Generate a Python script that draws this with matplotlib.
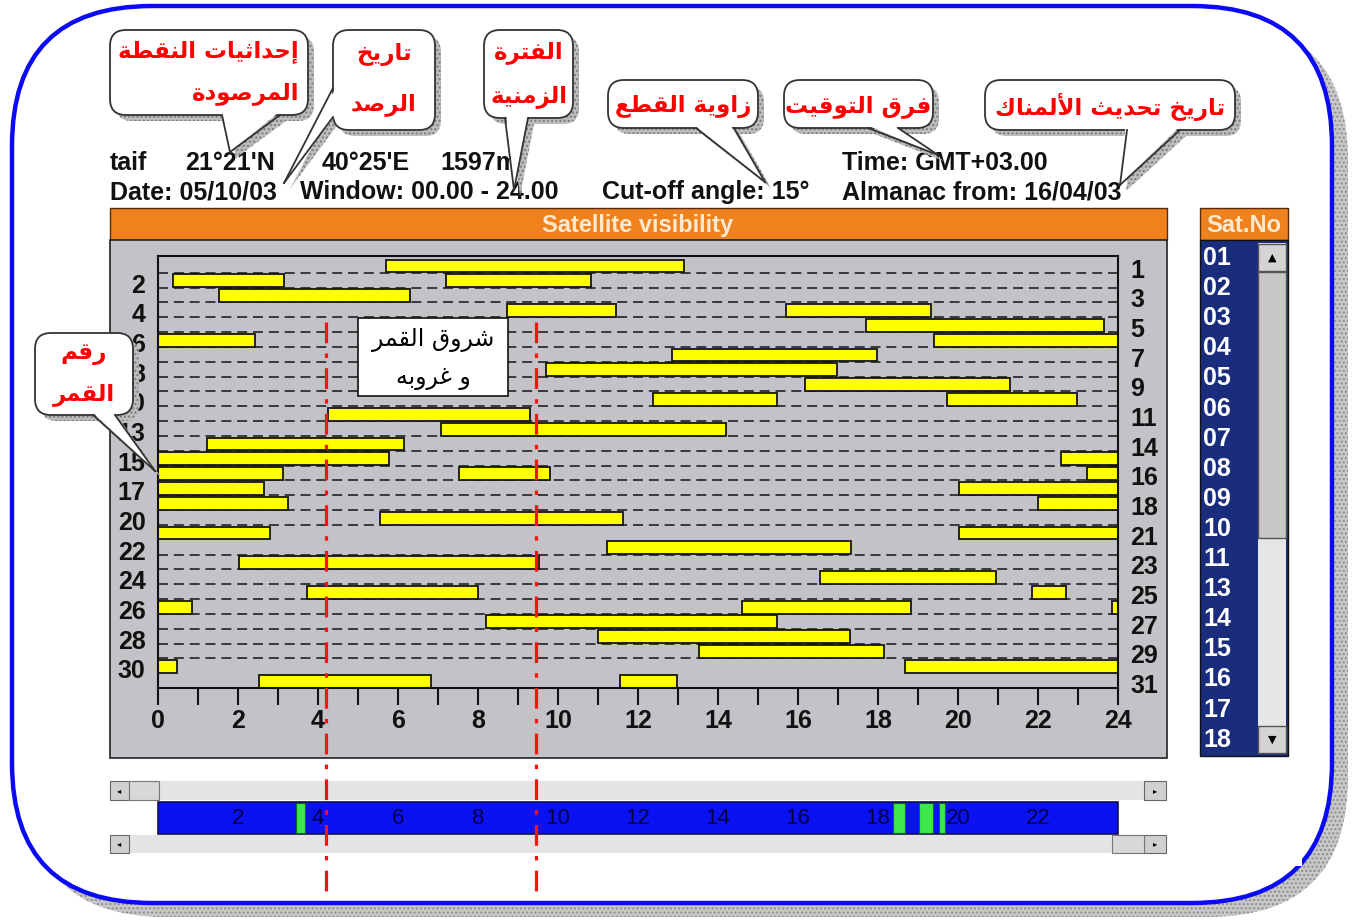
import matplotlib
matplotlib.use("Agg")
import matplotlib.pyplot as plt
from matplotlib.patches import Rectangle, FancyBboxPatch, Polygon
from matplotlib.transforms import blended_transform_factory

# ---- values ----
sat_prn = [1, 2, 3, 4, 5, 6, 7, 8, 9, 10, 11, 13, 14, 15, 16, 17, 18, 20, 21,
           22, 23, 24, 25, 26, 27, 28, 29, 30, 31]
# visibility windows (start hour, end hour), one list per satellite row
windows = [
    [(5.7, 13.15)],
    [(0.38, 3.15), (7.2, 10.83)],
    [(1.52, 6.3)],
    [(8.73, 11.45), (15.7, 19.32)],
    [(17.69, 23.66)],
    [(0.0, 2.43), (19.4, 24.0)],
    [(12.85, 17.97)],
    [(9.71, 16.98)],
    [(16.18, 21.31)],
    [(12.37, 15.48), (19.72, 22.98)],
    [(4.26, 9.31)],
    [(7.08, 14.19)],
    [(1.23, 6.14)],
    [(0.0, 5.77), (22.57, 24.0)],
    [(0.0, 3.13), (7.53, 9.8), (23.23, 24.0)],
    [(0.0, 2.66), (20.03, 24.0)],
    [(0.0, 3.26), (22.01, 24.0)],
    [(5.56, 11.63)],
    [(0.0, 2.79), (20.03, 24.0)],
    [(11.23, 17.33)],
    [(2.03, 9.53)],
    [(16.55, 20.95)],
    [(3.73, 8.0), (21.86, 22.69)],
    [(0.0, 0.85), (14.59, 18.83), (23.85, 24.0)],
    [(8.21, 15.48)],
    [(11.0, 17.31)],
    [(13.52, 18.14)],
    [(0.0, 0.47), (18.68, 24.0)],
    [(2.52, 6.83), (11.54, 12.98)],
]
no_dash_after = [19, 28]          # row boundaries without the dashed guide
hours = list(range(25))
moon_times = [4.2, 9.45]          # moon rise / set markers
timeline_labels = [2, 4, 6, 8, 10, 12, 14, 16, 18, 20, 22]
timeline_green = [(3.45, 3.67), (18.37, 18.68), (19.03, 19.38), (19.53, 19.68)]
satno_list = ["01", "02", "03", "04", "05", "06", "07", "08", "09", "10",
              "11", "13", "14", "15", "16", "17", "18"]

header1 = [("taif", 110), ("21°21'N", 185), ("40°25'E", 322), ("1597m", 440),
           ("Time: GMT+03.00", 842)]
header2 = [("Date: 05/10/03", 110), ("Window: 00.00 - 24.00", 300),
           ("Cut-off angle: 15°", 602), ("Almanac from: 16/04/03", 842)]

callouts = [
    ((110, 30, 308, 115), [(222, 115), (280, 115)], (230, 152), ["إحداثيات النقطة", "المرصودة"], "right"),
    ((333, 30, 435, 130), [(333, 88), (333, 117)], (284, 183), ["تاريخ", "الرصد"], "center"),
    ((484, 30, 573, 118), [(505, 118), (528, 118)], (514, 190), ["الفترة", "الزمنية"], "center"),
    ((608, 80, 758, 128), [(696, 128), (734, 128)], (765, 182), ["زاوية القطع"], "center"),
    ((784, 80, 933, 128), [(868, 128), (898, 128)], (938, 155), ["فرق التوقيت"], "center"),
    ((985, 80, 1235, 130), [(1127, 130), (1180, 130)], (1120, 185), ["تاريخ تحديث الألمناك"], "center"),
    ((35, 333, 133, 415), [(93, 415), (115, 415)], (155, 471), ["رقم", "القمر"], "center"),
]
moon_note = ["شروق القمر", "و غروبه"]

# ---- minimal Arabic shaping (matplotlib has no complex text layout) ----
AR = {'ا': (0xFE8D, False), 'أ': (0xFE83, False), 'إ': (0xFE87, False), 'آ': (0xFE81, False),
      'ب': (0xFE8F, True), 'ة': (0xFE93, False), 'ت': (0xFE95, True), 'ث': (0xFE99, True),
      'ج': (0xFE9D, True), 'ح': (0xFEA1, True), 'خ': (0xFEA5, True), 'د': (0xFEA9, False),
      'ذ': (0xFEAB, False), 'ر': (0xFEAD, False), 'ز': (0xFEAF, False), 'س': (0xFEB1, True),
      'ش': (0xFEB5, True), 'ص': (0xFEB9, True), 'ض': (0xFEBD, True), 'ط': (0xFEC1, True),
      'ظ': (0xFEC5, True), 'ع': (0xFEC9, True), 'غ': (0xFECD, True), 'ف': (0xFED1, True),
      'ق': (0xFED5, True), 'ك': (0xFED9, True), 'ل': (0xFEDD, True), 'م': (0xFEE1, True),
      'ن': (0xFEE5, True), 'ه': (0xFEE9, True), 'و': (0xFEED, False), 'ى': (0xFEEF, False),
      'ي': (0xFEF1, True)}
LAM_ALEF = {'ا': 0xFEFB, 'أ': 0xFEF7, 'إ': 0xFEF9, 'آ': 0xFEF5}


def shape(text):
    seq = []
    i = 0
    while i < len(text):
        c = text[i]
        if c == 'ل' and i + 1 < len(text) and text[i + 1] in LAM_ALEF:
            seq.append(('LA', LAM_ALEF[text[i + 1]]))
            i += 2
        else:
            seq.append(('C', c))
            i += 1

    def joins_next(it):
        return it[0] == 'C' and it[1] in AR and AR[it[1]][1]

    def letter(it):
        return it[0] == 'LA' or it[1] in AR

    out = []
    for j, it in enumerate(seq):
        prev_ok = j > 0 and joins_next(seq[j - 1]) and letter(it)
        next_ok = j + 1 < len(seq) and joins_next(it) and letter(seq[j + 1])
        if it[0] == 'LA':
            out.append(chr(it[1] + (1 if prev_ok else 0)))
        elif it[1] in AR:
            base, dual = AR[it[1]]
            if dual:
                form = 3 if (prev_ok and next_ok) else 1 if prev_ok else 2 if next_ok else 0
            else:
                form = 1 if prev_ok else 0
            out.append(chr(base + form))
        else:
            out.append(it[1])
    return ''.join(reversed(out))


plt.rcParams['font.family'] = ['Liberation Sans', 'DejaVu Sans']
plt.rcParams['font.weight'] = 'bold'
AR_FONT = ['DejaVu Sans']

W, H = 1354, 921
fig = plt.figure(figsize=(W / 100, H / 100), dpi=100)
fig.patch.set_facecolor('white')


def frac(x0, y0, x1, y1):
    return [x0 / W, 1 - y1 / H, (x1 - x0) / W, (y1 - y0) / H]


bg = fig.add_axes([0, 0, 1, 1], zorder=0)
bg.set_xlim(0, W)
bg.set_ylim(H, 0)
bg.axis('off')

GRAY = '#C3C3C7'
NAVY = '#1A2D7C'
ORANGE = '#F0821E'


def rbox(axx, x0, y0, x1, y1, r, **kw):
    p = FancyBboxPatch((x0, y0), x1 - x0, y1 - y0,
                       boxstyle=f"round,pad=0,rounding_size={r}", **kw)
    axx.add_patch(p)
    return p


# outer frame with stippled shadow
rbox(bg, 26, 20, 1348, 917, 140, fc='#C8C8C8', ec='#8C8C8C', lw=0, hatch='....', zorder=0)
rbox(bg, 12, 6, 1332, 903, 140, fc='white', ec='#0A0AF5', lw=3.2, zorder=1)
bg.add_patch(Rectangle((1175, 742), 127, 124, fc='white', ec='none', zorder=1.5))

# header texts
for txt, x in header1:
    bg.text(x, 163, txt, fontsize=18, va='center', ha='left', color='#111111', zorder=3)
for txt, x in header2:
    bg.text(x, 192, txt, fontsize=18, va='center', ha='left', color='#111111', zorder=3)

# main window: orange title + gray panel
bg.add_patch(Rectangle((110, 208), 1057, 32, fc=ORANGE, ec='#5A2A00', lw=1, zorder=2))
bg.text(638, 225, "Satellite visibility", fontsize=17, ha='center', va='center',
        color='#FFE8CC', zorder=3)
bg.add_patch(Rectangle((110, 240), 1057, 518, fc=GRAY, ec='#222222', lw=1.2, zorder=2))

# Sat.No list
bg.add_patch(Rectangle((1200, 208), 88, 32, fc=ORANGE, ec='#5A2A00', lw=1, zorder=2))
bg.text(1244, 225, "Sat.No", fontsize=17, ha='center', va='center', color='#FFE8CC', zorder=3)
bg.add_patch(Rectangle((1200, 240), 88, 516, fc=NAVY, ec='#111111', lw=1, zorder=2))
for i, s in enumerate(satno_list):
    bg.text(1203, 258 + i * 30.1, s, fontsize=18, ha='left', va='center', color='white', zorder=3)
bg.add_patch(Rectangle((1258, 243), 28, 510, fc='#E6E6E6', ec='none', zorder=3))
bg.add_patch(Rectangle((1258, 272), 28, 266, fc='#C8C8C8', ec='#555555', lw=1, zorder=3))
bg.add_patch(Rectangle((1258, 244), 28, 27, fc='#D4D4D4', ec='#555555', lw=1, zorder=3))
bg.add_patch(Rectangle((1258, 726), 28, 27, fc='#D4D4D4', ec='#555555', lw=1, zorder=3))
bg.text(1272, 258, "▲", fontsize=8, ha='center', va='center', color='black', zorder=4,
        family=['DejaVu Sans'])
bg.text(1272, 740, "▼", fontsize=8, ha='center', va='center', color='black', zorder=4,
        family=['DejaVu Sans'])

# bottom scroll bars
for yy, hh in [(781, 19), (835, 18)]:
    bg.add_patch(Rectangle((110, yy), 1057, hh, fc='#E4E4E4', ec='none', zorder=2))
    bg.add_patch(Rectangle((110, yy), 19, hh, fc='#D0D0D0', ec='#666666', lw=0.8, zorder=3))
    bg.add_patch(Rectangle((1144, yy), 22, hh, fc='#D0D0D0', ec='#666666', lw=0.8, zorder=3))
    bg.text(119, yy + hh / 2, "◂", fontsize=6, ha='center', va='center', family=['DejaVu Sans'], zorder=4)
    bg.text(1155, yy + hh / 2, "▸", fontsize=6, ha='center', va='center', family=['DejaVu Sans'], zorder=4)
bg.add_patch(Rectangle((129, 781), 30, 19, fc='#D8D8D8', ec='#777777', lw=0.8, zorder=3))
bg.add_patch(Rectangle((1112, 835), 32, 18, fc='#D8D8D8', ec='#777777', lw=0.8, zorder=3))

# ---- the chart itself ----
n_rows = len(sat_prn)
ax = fig.add_axes(frac(158, 256, 1118, 688), zorder=1)
ax.set_xlim(0, 24)
ax.set_ylim(n_rows, -0.13)
ax.set_facecolor(GRAY)
for sp in ax.spines.values():
    sp.set_color('#111111')
    sp.set_linewidth(1.5)

bounds = [k for k in range(1, n_rows) if k not in no_dash_after]
ax.hlines(bounds, 0, 24, colors='#222222', linestyles=(0, (6, 3.5)), lw=1.2, zorder=1)
for r, wins in enumerate(windows):
    for s, e in wins:
        ax.barh(r + 1 - 0.455, e - s, left=s, height=0.87, color='#FFFF00',
                edgecolor='#151515', lw=1.3, zorder=2)

ax.set_xticks(hours)
ax.set_xticklabels([str(h) if h % 2 == 0 else '' for h in hours])
ax.tick_params(axis='x', direction='out', length=12, width=1.5, labelsize=18, pad=3,
               colors='#111111')

rows = list(range(1, n_rows + 1))
left_rows = [r for r in rows if r % 2 == 0]
right_rows = [r for r in rows if r % 2 == 1]
ax.set_yticks([r - 0.3 for r in left_rows])
ax.set_yticklabels([str(sat_prn[r - 1]) for r in left_rows])
ax.tick_params(axis='y', length=0, labelsize=18, pad=9, colors='#111111')

ax2 = ax.twinx()
ax2.set_ylim(n_rows, -0.13)
ax2.set_yticks([r - 0.3 for r in right_rows])
ax2.set_yticklabels([str(sat_prn[r - 1]) for r in right_rows])
ax2.tick_params(axis='y', length=0, labelsize=18, pad=9, colors='#111111')
for sp in ax2.spines.values():
    sp.set_visible(False)

# ---- overlay: timeline, moon lines, callouts ----
top = fig.add_axes([0, 0, 1, 1], zorder=10)
top.set_xlim(0, W)
top.set_ylim(H, 0)
top.axis('off')
top.patch.set_alpha(0)
tr = blended_transform_factory(ax.transData, top.transData)

# blue timeline bar
top.add_patch(Rectangle((0, 802), 24, 32, transform=tr, fc='#0A12F2', ec='#10104A', lw=1.2, zorder=1))
for a, b in timeline_green:
    top.add_patch(Rectangle((a, 803), b - a, 30, transform=tr, fc='#3CE84C', ec='#116622',
                            lw=0.8, zorder=2))
for h in timeline_labels:
    top.text(h, 818, str(h), transform=tr, fontsize=16, ha='center', va='center',
             color='#000046', weight='normal', zorder=2)

for h in moon_times:
    top.plot([h, h], [322, 893], transform=tr, color='#FF1010', lw=2.3,
             linestyle=(0, (6.5, 3.2, 1.4, 3.2)), zorder=5)

# moon rise/set note
top.add_patch(Rectangle((358, 318), 150, 78, fc='white', ec='#111111', lw=1.2, zorder=6))
top.text(433, 340, shape(moon_note[0]), fontsize=17, ha='center', va='center', color='black',
         family=AR_FONT, weight='normal', zorder=7)
top.text(433, 378, shape(moon_note[1]), fontsize=17, ha='center', va='center', color='black',
         family=AR_FONT, weight='normal', zorder=7)


def bubble(box, base, tip, lines, align):
    x0, y0, x1, y1 = box
    sh = 6
    rbox(top, x0 + sh, y0 + sh, x1 + sh, y1 + sh, 16, fc='#BDBDBD', ec='#7A7A7A', lw=0,
         hatch='....', zorder=8)
    top.add_patch(Polygon([(base[0][0] + sh, base[0][1] + sh), (base[1][0] + sh, base[1][1] + sh),
                           (tip[0] + sh, tip[1] + sh)], fc='#BDBDBD', ec='#7A7A7A', lw=0,
                          hatch='....', zorder=8))
    rbox(top, x0, y0, x1, y1, 16, fc='white', ec='#333333', lw=1.3, zorder=9)
    cx, cy = (x0 + x1) / 2, (y0 + y1) / 2
    ins = []
    for bx, by in base:
        dx, dy = cx - bx, cy - by
        d = (dx * dx + dy * dy) ** 0.5
        ins.append((bx + 3 * dx / d, by + 3 * dy / d))
    top.add_patch(Polygon([ins[0], ins[1], tip], fc='white', ec='none', zorder=10))
    for bx, by in base:
        top.plot([bx, tip[0]], [by, tip[1]], color='#333333', lw=1.3, zorder=11)
    n = len(lines)
    hgt = y1 - y0
    xs = {'center': (x0 + x1) / 2, 'right': x1 - 9}[align]
    for i, ln in enumerate(lines):
        yy = y0 + hgt * (i + 0.5) / n + (2 if n == 1 else 0)
        top.text(xs, yy, shape(ln), fontsize=16.5, ha=align, va='center', color='#FF0000',
                 family=AR_FONT, weight='bold', zorder=12)


for box, base, tip, lines, align in callouts:
    bubble(box, base, tip, lines, align)

fig.savefig('out.png', dpi=100)
